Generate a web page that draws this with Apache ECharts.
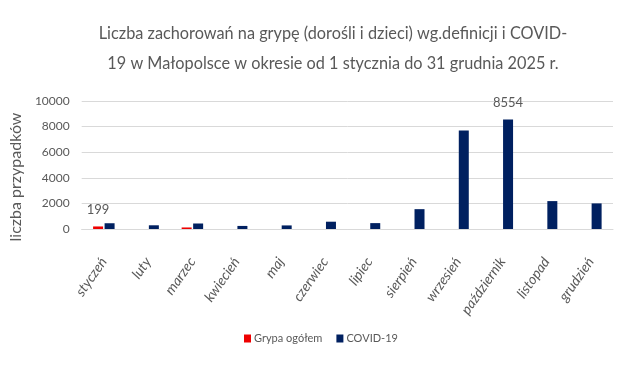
<!DOCTYPE html>
<html>
<head>
<meta charset="utf-8">
<script src="https://cdn.jsdelivr.net/npm/echarts@6/dist/echarts.min.js"></script>
<style>html,body{margin:0;padding:0;background:#fff}#c{width:629px;height:367px}</style>
</head>
<body>
<div id="c"></div>
<script>
const categories = ['styczeń','luty','marzec','kwiecień','maj','czerwiec','lipiec','sierpień','wrzesień','październik','listopad','grudzień'];
const grypa = [199, 0, 120, 0, 0, 0, 0, 0, 0, 0, 0, 0];
const covid = [450, 290, 430, 240, 280, 570, 460, 1550, 7700, 8554, 2180, 2000];
const yTicks = [0, 2000, 4000, 6000, 8000, 10000];
const labeledGrypa = [0];
const labeledCovid = [9];

const FONT = "Lato, 'Open Sans', sans-serif";
const chart = echarts.init(document.getElementById('c'), null, {renderer: 'canvas'});
const lbl = {show: true, position: 'top', distance: 10, color: '#595959', fontSize: 13, fontFamily: FONT, formatter: p => p.value};
chart.setOption({
  animation: false,
  title: {
    text: 'Liczba zachorowań na grypę (dorośli i dzieci) wg.definicji i COVID-\n19 w Małopolsce w okresie od 1 stycznia do 31 grudnia 2025 r.',
    left: 328, top: 14, textAlign: 'center',
    textStyle: {color: '#595959', fontSize: 16.3, fontWeight: 'normal', fontFamily: FONT, lineHeight: 30, align: 'center'}
  },
  legend: {
    bottom: 18, left: 239, itemWidth: 7, itemHeight: 8, itemGap: 14,
    icon: 'rect',
    textStyle: {color: '#595959', fontSize: 11, fontFamily: FONT, padding: [0, 0, 0, -2]}
  },
  grid: {left: 79, right: 16, top: 101, bottom: 138, containLabel: false},
  xAxis: {
    type: 'category', data: categories,
    axisLine: {lineStyle: {color: '#d9d9d9'}},
    axisTick: {show: false},
    axisLabel: {rotate: 55, interval: 0, color: '#595959', fontSize: 14, fontStyle: 'italic', fontFamily: FONT, margin: 30}
  },
  yAxis: {
    type: 'value', min: yTicks[0], max: yTicks[yTicks.length - 1], interval: yTicks[1] - yTicks[0],
    name: 'liczba przypadków', nameLocation: 'middle', nameGap: 32, nameRotate: 90,
    nameTextStyle: {color: '#595959', fontSize: 16, fontFamily: FONT, padding: [0, 0, 0, -24]},
    axisLine: {show: false}, axisTick: {show: false},
    axisLabel: {color: '#595959', fontSize: 12, fontFamily: FONT, margin: 12, formatter: v => String(v)},
    splitLine: {lineStyle: {color: '#d9d9d9'}}
  },
  series: [
    {name: 'Grypa ogółem', type: 'bar', barWidth: 10, barGap: '15%', itemStyle: {color: '#EE0000'},
     data: grypa.map((v, i) => labeledGrypa.includes(i) ? {value: v, label: lbl} : v)},
    {name: 'COVID-19', type: 'bar', barWidth: 10, itemStyle: {color: '#002060'},
     data: covid.map((v, i) => labeledCovid.includes(i) ? {value: v, label: lbl} : v)}
  ]
});
</script>
</body>
</html>
